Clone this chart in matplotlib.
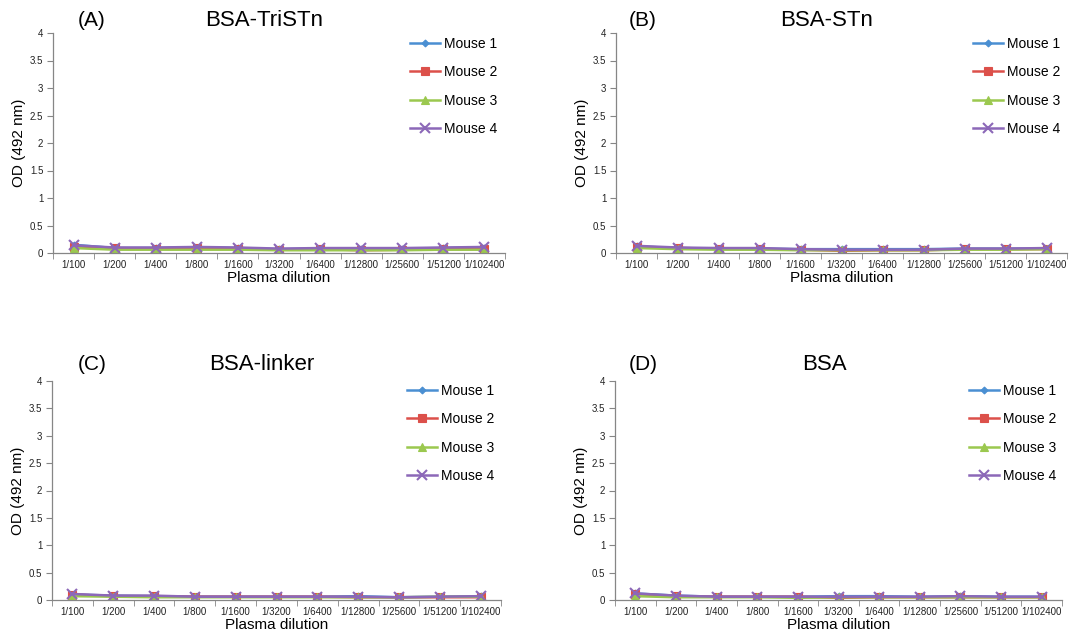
import matplotlib
matplotlib.use("Agg")
import matplotlib.pyplot as plt
from matplotlib.ticker import FixedLocator, FuncFormatter

plt.rcParams['font.family'] = ['Liberation Sans', 'DejaVu Sans']

dilutions = ["1/100", "1/200", "1/400", "1/800", "1/1600", "1/3200", "1/6400",
             "1/12800", "1/25600", "1/51200", "1/102400"]
series_names = ["Mouse 1", "Mouse 2", "Mouse 3", "Mouse 4"]

# Panel A: BSA-TriSTn
a_m1 = [0.15, 0.09, 0.09, 0.10, 0.09, 0.07, 0.08, 0.08, 0.08, 0.09, 0.10]
a_m2 = [0.11, 0.09, 0.08, 0.09, 0.08, 0.06, 0.07, 0.05, 0.06, 0.07, 0.07]
a_m3 = [0.09, 0.06, 0.06, 0.06, 0.06, 0.05, 0.05, 0.05, 0.05, 0.06, 0.06]
a_m4 = [0.14, 0.10, 0.10, 0.11, 0.10, 0.08, 0.09, 0.09, 0.09, 0.10, 0.11]
# Panel B: BSA-STn
b_m1 = [0.12, 0.09, 0.08, 0.08, 0.07, 0.07, 0.07, 0.07, 0.08, 0.08, 0.08]
b_m2 = [0.11, 0.09, 0.08, 0.07, 0.06, 0.04, 0.05, 0.05, 0.07, 0.07, 0.07]
b_m3 = [0.09, 0.07, 0.06, 0.06, 0.05, 0.05, 0.05, 0.05, 0.06, 0.06, 0.07]
b_m4 = [0.13, 0.10, 0.09, 0.09, 0.07, 0.06, 0.06, 0.06, 0.08, 0.08, 0.09]
# Panel C: BSA-linker
c_m1 = [0.10, 0.08, 0.07, 0.06, 0.06, 0.06, 0.06, 0.07, 0.05, 0.06, 0.07]
c_m2 = [0.10, 0.07, 0.07, 0.06, 0.06, 0.06, 0.06, 0.05, 0.05, 0.05, 0.05]
c_m3 = [0.07, 0.06, 0.05, 0.05, 0.05, 0.05, 0.05, 0.05, 0.05, 0.06, 0.06]
c_m4 = [0.11, 0.08, 0.08, 0.06, 0.06, 0.06, 0.06, 0.06, 0.05, 0.06, 0.07]
# Panel D: BSA
d_m1 = [0.12, 0.08, 0.06, 0.06, 0.06, 0.07, 0.07, 0.06, 0.07, 0.06, 0.06]
d_m2 = [0.11, 0.07, 0.06, 0.06, 0.06, 0.04, 0.05, 0.05, 0.05, 0.05, 0.05]
d_m3 = [0.07, 0.05, 0.05, 0.05, 0.04, 0.05, 0.05, 0.05, 0.05, 0.05, 0.05]
d_m4 = [0.12, 0.08, 0.06, 0.06, 0.06, 0.06, 0.06, 0.06, 0.07, 0.06, 0.06]

panels = [
    ("(A)", "BSA-TriSTn", [a_m1, a_m2, a_m3, a_m4]),
    ("(B)", "BSA-STn", [b_m1, b_m2, b_m3, b_m4]),
    ("(C)", "BSA-linker", [c_m1, c_m2, c_m3, c_m4]),
    ("(D)", "BSA", [d_m1, d_m2, d_m3, d_m4]),
]

colors = ["#4A8FD2", "#DC504A", "#9BC84F", "#8C68B8"]
markers = ["D", "s", "^", "x"]
msizes = [3.5, 5.5, 5.5, 6.5]

W, H = 1072, 637
# axes boxes in pixels: left, right, top, bottom
boxes = [(53, 505, 33, 253), (616, 1067, 33, 253),
         (52, 501, 381, 600), (615, 1062, 381, 600)]
label_pos = [(92, 20), (643, 20), (92, 365), (643, 365)]
title_pos = [(264, 20), (827, 20), (262, 365), (824, 365)]
legend_pos = [(404, 31), (967, 31), (401, 378), (963, 378)]

fig = plt.figure(figsize=(W / 100, H / 100), dpi=100)
axis_gray = "#868686"

for i, (tag, title, data) in enumerate(panels):
    l, r, t, b = boxes[i]
    ax = fig.add_axes([l / W, 1 - b / H, (r - l) / W, (b - t) / H])
    x = list(range(len(dilutions)))
    for s, vals in enumerate(data):
        ax.plot(x, vals, color=colors[s], marker=markers[s], markersize=msizes[s],
                markeredgewidth=1.5 if markers[s] == "x" else 0.8,
                markeredgecolor=colors[s], linewidth=1.8, label=series_names[s])
    ax.set_xlim(-0.5, len(dilutions) - 0.5)
    ax.set_ylim(0, 4)
    ax.set_yticks([0, 0.5, 1, 1.5, 2, 2.5, 3, 3.5, 4])
    ax.yaxis.set_major_formatter(FuncFormatter(lambda v, p: f"{v:g}"))
    ax.set_xticks(x)
    ax.set_xticklabels(dilutions)
    ax.xaxis.set_minor_locator(FixedLocator([k - 0.5 for k in range(len(dilutions) + 1)]))
    ax.tick_params(axis="x", which="major", length=0, labelsize=7, pad=5, colors="#222222")
    ax.tick_params(axis="x", which="minor", length=4, color=axis_gray, direction="out")
    ax.tick_params(axis="y", which="major", length=4, color=axis_gray, labelsize=7,
                   pad=3, labelcolor="#222222")
    for sp in ["top", "right"]:
        ax.spines[sp].set_visible(False)
    for sp in ["left", "bottom"]:
        ax.spines[sp].set_color(axis_gray)
        ax.spines[sp].set_linewidth(0.9)
    ax.set_xlabel("Plasma dilution", fontsize=11, labelpad=1)
    ax.set_ylabel("OD (492 nm)", fontsize=11, labelpad=3)
    lx, ly = legend_pos[i]
    ax.legend(loc="upper left", bbox_to_anchor=(lx / W, 1 - ly / H),
              bbox_transform=fig.transFigure, frameon=False, fontsize=10,
              handlelength=2.2, handletextpad=0.3, labelspacing=1.05,
              borderaxespad=0)
    fig.text(label_pos[i][0] / W, 1 - label_pos[i][1] / H, tag, fontsize=15,
             ha="center", va="center")
    fig.text(title_pos[i][0] / W, 1 - title_pos[i][1] / H, title, fontsize=16,
             ha="center", va="center")

fig.savefig("out.png", dpi=100)
